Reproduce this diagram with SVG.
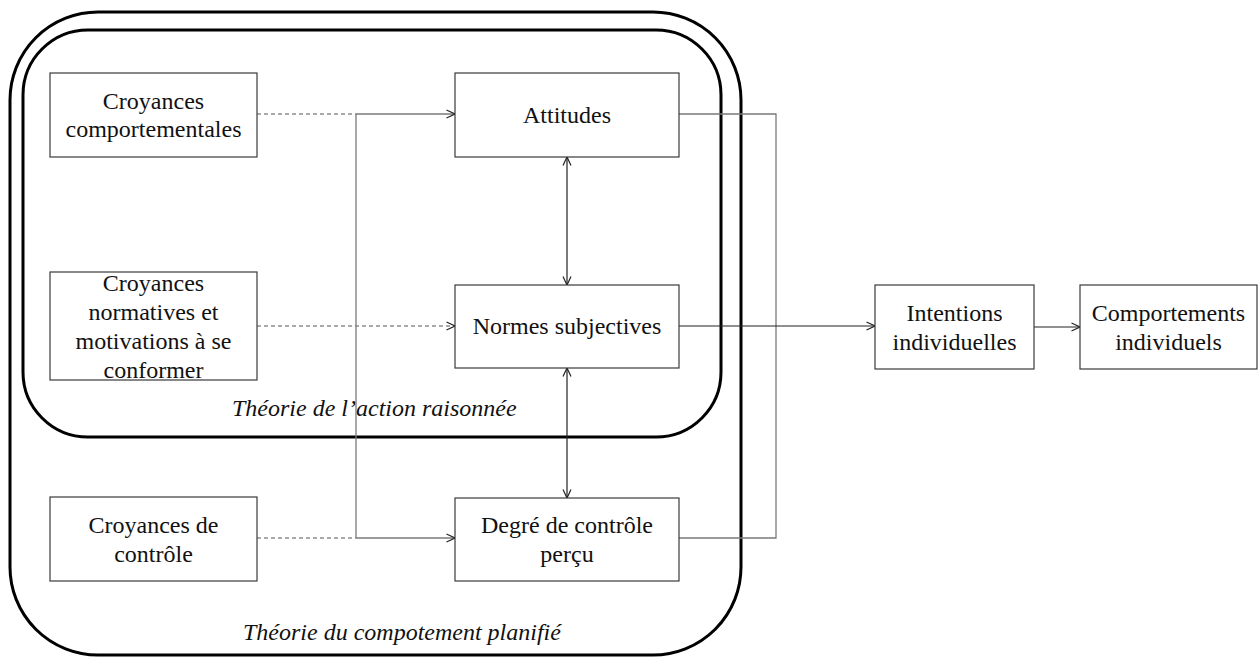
<svg xmlns="http://www.w3.org/2000/svg" width="1259" height="657" viewBox="0 0 1259 657">
<style>
.box{fill:#fff;stroke:#3a3a3a;stroke-width:1.2}
.frame{fill:none;stroke:#000;stroke-width:3}
.t{font-family:"Liberation Serif","Times New Roman",serif;font-size:24px;fill:#111;text-anchor:middle}
.it{font-family:"Liberation Serif","Times New Roman",serif;font-size:24px;font-style:italic;fill:#111}
.g{fill:none;stroke:#7a7a7a;stroke-width:1.3}
.d{fill:none;stroke:#555;stroke-width:1.2;stroke-dasharray:4 3}
.k{fill:none;stroke:#222;stroke-width:1.2}
</style>
<defs>
<marker id="ar" viewBox="0 0 10 10" refX="9.5" refY="5" markerWidth="10" markerHeight="10" markerUnits="userSpaceOnUse" orient="auto-start-reverse">
<path d="M1,1 L9.5,5 L1,9" fill="none" stroke="#222" stroke-width="1.2"/>
</marker>
</defs>
<g id="frames">
<rect class="frame" x="10" y="12" width="731" height="643" rx="88" ry="88"/>
<rect class="frame" x="23" y="30" width="698" height="407" rx="65" ry="65"/>
<text class="it" x="232" y="416">Théorie de l’action raisonnée</text>
<text class="it" x="243" y="640">Théorie du compotement planifié</text>
</g>
<g id="connectors">
<path class="d" d="M257,114 H356"/>
<path class="d" d="M257,538 H356"/>
<path class="d" d="M257,326 H455" marker-end="url(#ar)"/>
<path class="g" d="M356,114 V538"/>
<path class="g" d="M356,114 H455" marker-end="url(#ar)"/>
<path class="g" d="M356,538 H455" marker-end="url(#ar)"/>
<path class="g" d="M679,114 H776 V538 H679"/>
<path class="k" d="M567,157 V285" marker-start="url(#ar)" marker-end="url(#ar)"/>
<path class="k" d="M567,368 V498" marker-start="url(#ar)" marker-end="url(#ar)"/>
<path class="k" d="M679,326 H875" marker-end="url(#ar)"/>
<path class="k" d="M1034,327 H1080" marker-end="url(#ar)"/>
</g>
<g id="croyances-comportementales">
<rect class="box" x="50" y="73" width="207" height="84"/>
<text class="t" x="153.5" y="109">Croyances</text>
<text class="t" x="153.5" y="137">comportementales</text>
</g>
<g id="croyances-normatives">
<rect class="box" x="50" y="272" width="207" height="108"/>
<text class="t" x="153.5" y="291">Croyances</text>
<text class="t" x="153.5" y="320">normatives et</text>
<text class="t" x="153.5" y="349">motivations à se</text>
<text class="t" x="153.5" y="378">conformer</text>
</g>
<g id="croyances-controle">
<rect class="box" x="50" y="497" width="207" height="84"/>
<text class="t" x="153.5" y="533">Croyances de</text>
<text class="t" x="153.5" y="562">contrôle</text>
</g>
<g id="attitudes">
<rect class="box" x="455" y="73" width="224" height="84"/>
<text class="t" x="567" y="123">Attitudes</text>
</g>
<g id="normes-subjectives">
<rect class="box" x="455" y="285" width="224" height="83"/>
<text class="t" x="567" y="334">Normes subjectives</text>
</g>
<g id="degre-controle">
<rect class="box" x="455" y="498" width="224" height="83"/>
<text class="t" x="567" y="533">Degré de contrôle</text>
<text class="t" x="567" y="562">perçu</text>
</g>
<g id="intentions">
<rect class="box" x="875" y="285" width="159" height="84"/>
<text class="t" x="954.5" y="321">Intentions</text>
<text class="t" x="954.5" y="350">individuelles</text>
</g>
<g id="comportements">
<rect class="box" x="1080" y="285" width="177" height="84"/>
<text class="t" x="1168.5" y="321">Comportements</text>
<text class="t" x="1168.5" y="350">individuels</text>
</g>
</svg>
